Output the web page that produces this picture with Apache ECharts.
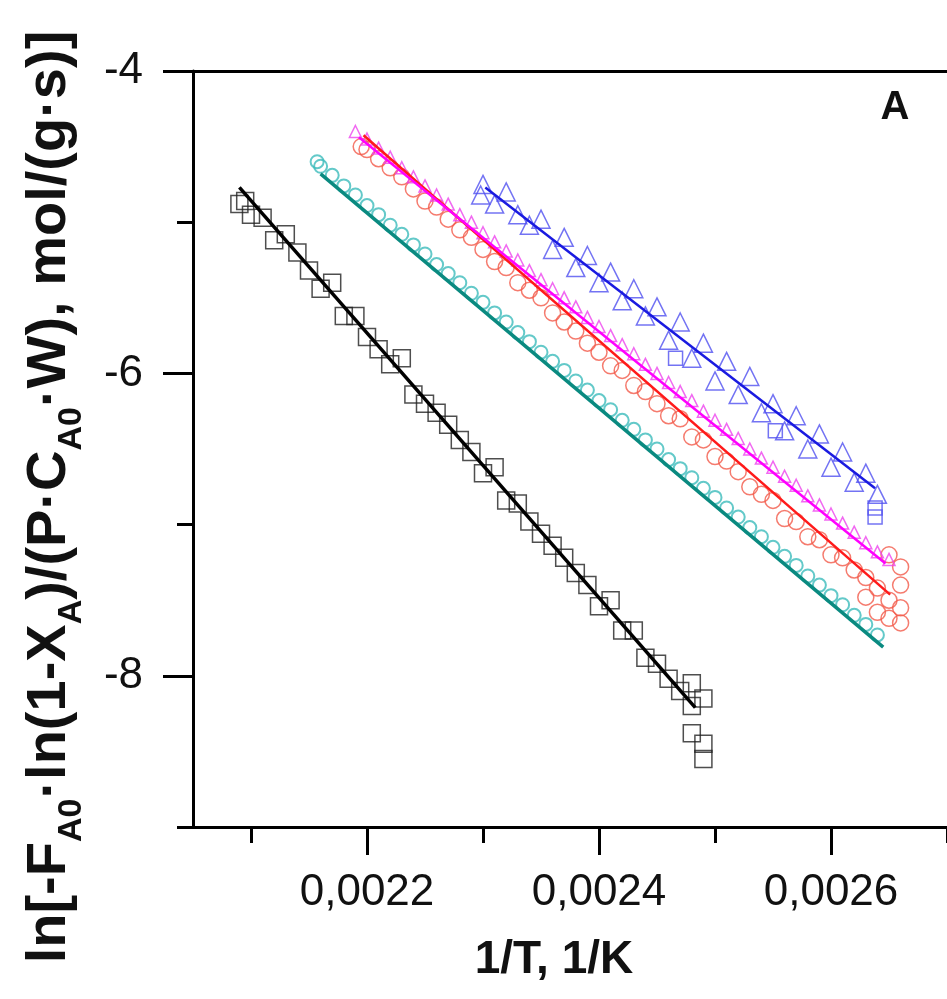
<!DOCTYPE html>
<html><head><meta charset="utf-8">
<script src="https://cdn.jsdelivr.net/npm/echarts@6/dist/echarts.min.js"></script>
<style>html,body{margin:0;padding:0;background:#fff}#c{width:947px;height:999px}</style>
</head><body><div id="c"></div>
<script>
// ---- tick labels ----
const xMajorTicks = [0.0022, 0.0024, 0.0026];
const xMinorTicks = [0.0021, 0.0023, 0.0025, 0.0027];
const yMajorTicks = [-8, -6, -4];
const yMinorTicks = [-9, -7, -5];

// ---- black squares ----
const blackX = [0.00209,0.002095,0.0021,0.00211,0.00212,0.00213,0.00214,0.00215,0.00216,0.00217,0.00218,0.00219,0.0022,0.00221,0.00222,0.00223,0.00224,0.00225,0.00226,0.00227,0.00228,0.00229,0.0023,0.00231,0.00232,0.00233,0.00234,0.00235,0.00236,0.00237,0.00238,0.00239,0.0024,0.00241,0.00242,0.00243,0.00244,0.00245,0.00246,0.00247,0.00248,0.00248,0.00249,0.00248,0.00249,0.00249];
const blackY = [-4.88,-4.86,-4.95,-4.97,-5.12,-5.08,-5.20,-5.32,-5.44,-5.40,-5.62,-5.62,-5.76,-5.84,-5.94,-5.90,-6.14,-6.20,-6.26,-6.34,-6.44,-6.52,-6.66,-6.62,-6.84,-6.86,-6.98,-7.06,-7.14,-7.22,-7.32,-7.40,-7.54,-7.50,-7.70,-7.70,-7.88,-7.92,-8.02,-8.10,-8.05,-8.20,-8.15,-8.38,-8.45,-8.55];
const blackFitX = [0.00209, 0.002483];
const blackFitY = [-4.77, -8.21];

// ---- teal circles ----
const tealX = [0.002157,0.00216,0.00217,0.00218,0.00219,0.0022,0.00221,0.00222,0.00223,0.00224,0.00225,0.00226,0.00227,0.00228,0.00229,0.0023,0.00231,0.00232,0.00233,0.00234,0.00235,0.00236,0.00237,0.00238,0.00239,0.0024,0.00241,0.00242,0.00243,0.00244,0.00245,0.00246,0.00247,0.00248,0.00249,0.0025,0.00251,0.00252,0.00253,0.00254,0.00255,0.00256,0.00257,0.00258,0.00259,0.0026,0.00261,0.00262,0.00263,0.00264];
const tealY = [-4.60,-4.63,-4.69,-4.76,-4.82,-4.89,-4.95,-5.02,-5.08,-5.15,-5.21,-5.28,-5.34,-5.40,-5.47,-5.53,-5.60,-5.66,-5.73,-5.79,-5.86,-5.92,-5.98,-6.05,-6.11,-6.18,-6.24,-6.31,-6.37,-6.44,-6.50,-6.57,-6.63,-6.69,-6.76,-6.82,-6.89,-6.95,-7.02,-7.08,-7.15,-7.21,-7.27,-7.34,-7.40,-7.47,-7.53,-7.60,-7.66,-7.73];
const tealFitX = [0.00216, 0.002645];
const tealFitY = [-4.68, -7.81];

// ---- red circles ----
const redX = [0.002195,0.0022,0.00221,0.00222,0.00223,0.00224,0.00225,0.00226,0.00227,0.00228,0.00229,0.0023,0.00231,0.00232,0.00233,0.00234,0.00235,0.00236,0.00237,0.00238,0.00239,0.0024,0.00241,0.00242,0.00243,0.00244,0.00245,0.00246,0.00247,0.00248,0.00249,0.0025,0.00251,0.00252,0.00253,0.00254,0.00255,0.00256,0.00257,0.00258,0.00259,0.0026,0.00261,0.00262,0.00263,0.00264,0.00265,0.00266,0.00265,0.00266,0.00266,0.00265,0.00264,0.00266,0.00263];
const redY = [-4.50,-4.52,-4.58,-4.64,-4.70,-4.78,-4.86,-4.90,-4.98,-5.05,-5.10,-5.18,-5.26,-5.30,-5.40,-5.45,-5.50,-5.60,-5.66,-5.72,-5.80,-5.86,-5.95,-5.98,-6.08,-6.12,-6.20,-6.28,-6.30,-6.42,-6.44,-6.55,-6.58,-6.65,-6.75,-6.80,-6.84,-6.96,-6.98,-7.08,-7.10,-7.20,-7.22,-7.30,-7.35,-7.42,-7.50,-7.55,-7.20,-7.28,-7.40,-7.62,-7.58,-7.65,-7.48];
const redFitX = [0.002197, 0.002651];
const redFitY = [-4.425, -7.463];

// ---- magenta triangles ----
const magentaX = [0.00219,0.0022,0.00221,0.00222,0.00223,0.00224,0.00225,0.00226,0.00227,0.00228,0.00229,0.0023,0.00231,0.00232,0.00233,0.00234,0.00235,0.00236,0.00237,0.00238,0.00239,0.0024,0.00241,0.00242,0.00243,0.00244,0.00245,0.00246,0.00247,0.00248,0.00249,0.0025,0.00251,0.00252,0.00253,0.00254,0.00255,0.00256,0.00257,0.00258,0.00259,0.0026,0.00261,0.00262,0.00263,0.00264,0.00265];
const magentaY = [-4.40,-4.45,-4.51,-4.57,-4.64,-4.70,-4.76,-4.82,-4.88,-4.95,-5.00,-5.07,-5.13,-5.19,-5.25,-5.32,-5.38,-5.44,-5.50,-5.56,-5.63,-5.69,-5.75,-5.81,-5.87,-5.94,-6.00,-6.06,-6.12,-6.18,-6.25,-6.31,-6.37,-6.43,-6.50,-6.56,-6.62,-6.68,-6.74,-6.81,-6.87,-6.93,-6.99,-7.05,-7.12,-7.18,-7.23];
const magentaFitX = [0.002193, 0.002647];
const magentaFitY = [-4.438, -7.257];

// ---- blue triangles / squares ----
const blueX = [0.002298,0.0023,0.00231,0.00232,0.00233,0.00234,0.00235,0.00236,0.00237,0.00238,0.00239,0.0024,0.00241,0.00242,0.00243,0.00244,0.00245,0.00246,0.00247,0.00248,0.00249,0.0025,0.00251,0.00252,0.00253,0.00254,0.00255,0.00256,0.00257,0.00258,0.00259,0.0026,0.00261,0.00262,0.00263,0.00264];
const blueY = [-4.82,-4.75,-4.88,-4.80,-4.95,-5.02,-4.98,-5.18,-5.10,-5.30,-5.22,-5.40,-5.33,-5.52,-5.44,-5.62,-5.56,-5.78,-5.66,-5.90,-5.80,-6.05,-5.92,-6.14,-6.02,-6.26,-6.20,-6.38,-6.28,-6.50,-6.40,-6.62,-6.52,-6.72,-6.66,-6.80];
const blueSqX = [0.002466, 0.002552, 0.002638, 0.002638];
const blueSqY = [-5.90, -6.38, -6.89, -6.95];
const blueFitX = [0.002302, 0.002638];
const blueFitY = [-4.77, -6.76];

const zip = (a, b) => a.map((v, i) => [v, b[i]]);
const FONT = 'Liberation Sans, Arial, sans-serif';

function scatter(name, xs, ys, symbol, size, color, bw) {
  return { name, type: 'scatter', data: zip(xs, ys), symbol, symbolSize: size,
    itemStyle: { color: 'rgba(255,255,255,0)', borderColor: color, borderWidth: bw },
    z: 2, silent: true, animation: false };
}
function fit(name, xs, ys, color, w) {
  return { name, type: 'line', data: zip(xs, ys), showSymbol: false, symbol: 'none',
    lineStyle: { color, width: w }, z: 5, silent: true, animation: false };
}

const chart = echarts.init(document.getElementById('c'), null, { renderer: 'canvas' });
chart.setOption({
  animation: false,
  backgroundColor: '#fff',
  grid: { left: 193, top: 71, width: 756, height: 756, containLabel: false },
  xAxis: [
    { type: 'value', min: 0.00205, max: 0.0027, position: 'bottom',
      axisLine: { lineStyle: { color: '#000', width: 3 } },
      axisTick: { show: true, customValues: xMajorTicks, length: 28, lineStyle: { color: '#000', width: 3 } },
      axisLabel: { customValues: xMajorTicks, margin: 44, fontSize: 44, fontFamily: FONT, color: '#111',
        formatter: v => v.toFixed(4).replace('.', ',') },
      splitLine: { show: false } },
    { type: 'value', min: 0.00205, max: 0.0027, position: 'bottom',
      axisLine: { show: false },
      axisTick: { show: true, customValues: xMinorTicks, length: 16, lineStyle: { color: '#000', width: 3 } },
      axisLabel: { show: false }, splitLine: { show: false } },
    { type: 'value', min: 0.00205, max: 0.0027, position: 'top',
      axisLine: { lineStyle: { color: '#000', width: 3 } },
      axisTick: { show: false }, axisLabel: { show: false }, splitLine: { show: false } }
  ],
  yAxis: [
    { type: 'value', min: -9, max: -4, position: 'left',
      axisLine: { show: true, lineStyle: { color: '#000', width: 3 } },
      axisTick: { show: true, customValues: yMajorTicks, length: 30, lineStyle: { color: '#000', width: 3 } },
      axisLabel: { customValues: yMajorTicks, margin: 50, fontSize: 44, fontFamily: FONT, color: '#111' },
      splitLine: { show: false } },
    { type: 'value', min: -9, max: -4, position: 'left',
      axisLine: { show: false },
      axisTick: { show: true, customValues: yMinorTicks, length: 16, lineStyle: { color: '#000', width: 3 } },
      axisLabel: { show: false }, splitLine: { show: false } }
  ],
  series: [
    scatter('black', blackX, blackY, 'rect', 17, '#222', 1.5),
    scatter('teal', tealX, tealY, 'circle', 13, '#3cbcbc', 2),
    scatter('red', redX, redY, 'circle', 16, '#f25a4a', 1.5),
    scatter('magenta', magentaX, magentaY, 'triangle', 12, '#ee44ee', 1.5),
    scatter('blue', blueX, blueY, 'triangle', 18, '#5050f0', 1.5),
    scatter('blueSq', blueSqX, blueSqY, 'rect', 14, '#5050f0', 1.5),
    fit('blackFit', blackFitX, blackFitY, '#000', 3.5),
    fit('tealFit', tealFitX, tealFitY, '#0a8a80', 3.5),
    fit('redFit', redFitX, redFitY, '#ff1a1a', 2.5),
    fit('magentaFit', magentaFitX, magentaFitY, '#ff00ff', 2.5),
    fit('blueFit', blueFitX, blueFitY, '#1a1ae0', 2.5)
  ],
  graphic: [
    { type: 'text', x: 895, y: 108, style: { text: 'A', fontSize: 40, fontWeight: 'bold', fontFamily: FONT,
      fill: '#111', align: 'center', verticalAlign: 'middle' } },
    { type: 'text', x: 554, y: 960, style: { text: '1/T, 1/K', fontSize: 46, fontWeight: 'bold', fontFamily: FONT,
      fill: '#111', align: 'center', verticalAlign: 'middle' } },
    { type: 'text', x: 50, y: 497, rotation: Math.PI / 2,
      style: { text: '{m|ln[-F}{s|A0}{m|·ln(1-X}{s|A}{m|)/(P·C}{s|A0}{m|·W), mol/(g·s)]}',
        align: 'center', verticalAlign: 'middle', fill: '#111',
        rich: {
          m: { fontSize: 56, fontWeight: 'bold', fontFamily: FONT, fill: '#111', lineHeight: 62 },
          s: { fontSize: 34, fontWeight: 'bold', fontFamily: FONT, fill: '#111', lineHeight: 34, padding: [44, 0, 0, 0] }
        } } }
  ]
});
</script></body></html>
